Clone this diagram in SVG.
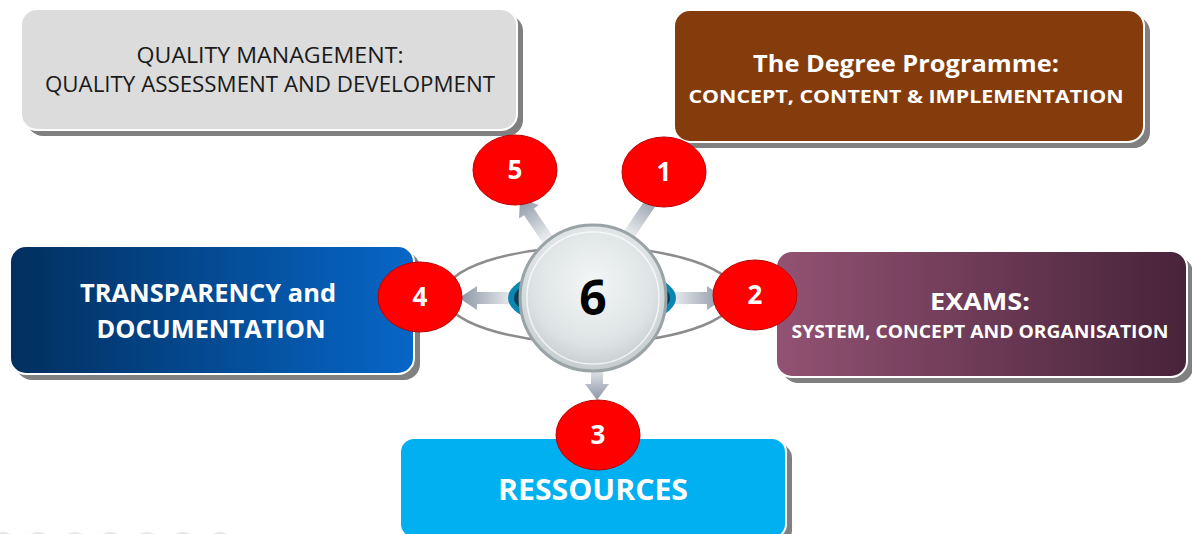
<svg xmlns="http://www.w3.org/2000/svg" width="1192" height="534" viewBox="0 0 1192 534">
<defs>
<linearGradient id="gBlue" x1="0" y1="0" x2="1" y2="0"><stop offset="0" stop-color="#022f5e"/><stop offset="1" stop-color="#0766c8"/></linearGradient>
<linearGradient id="gPurple" x1="0" y1="0" x2="1" y2="0"><stop offset="0" stop-color="#935273"/><stop offset="1" stop-color="#47233a"/></linearGradient>
<radialGradient id="gCenter" cx="0.5" cy="0.4" r="0.6"><stop offset="0" stop-color="#f4f6f6"/><stop offset="0.7" stop-color="#dde3e4"/><stop offset="1" stop-color="#c3cbcd"/></radialGradient>
<linearGradient id="gArrow" x1="0" y1="0" x2="1" y2="0"><stop offset="0" stop-color="#eef0f3"/><stop offset="1" stop-color="#8a94a3"/></linearGradient>
</defs>
<style>
.shadow{fill:#808080}
.box{stroke:#ffffff;stroke-width:2}
.badge{fill:#ff0000;stroke:#c00000;stroke-width:1}
.num{font-family:"Open Sans","Liberation Sans",sans-serif;font-weight:bold;font-size:26px;fill:#ffffff;text-anchor:middle}
.wt{font-family:"Open Sans","Liberation Sans",sans-serif;font-weight:bold;fill:#ffffff;text-anchor:middle}
.dk{font-family:"Open Sans","Liberation Sans",sans-serif;fill:#1a1a1a;text-anchor:middle}
.arrow{fill:url(#gArrow)}
</style>
<rect width="1192" height="534" fill="#ffffff"/>

<g id="pager" fill="none" stroke="#e6e6e6" stroke-width="2">
<circle cx="3" cy="547" r="14"/><circle cx="38" cy="547" r="14"/><circle cx="75" cy="547" r="14"/><circle cx="110" cy="547" r="14"/><circle cx="147" cy="547" r="14"/><circle cx="183" cy="547" r="14"/><circle cx="220" cy="547" r="14"/>
</g>

<g id="node-quality">
<rect class="shadow" x="27" y="15" width="496" height="121" rx="16"/>
<rect class="box" x="21" y="9" width="496" height="121" rx="16" fill="#dcdcdc"/>
<text class="dk" x="270" y="63" font-size="21" textLength="267" lengthAdjust="spacingAndGlyphs">QUALITY MANAGEMENT:</text>
<text class="dk" x="270" y="92" font-size="21" textLength="450" lengthAdjust="spacingAndGlyphs">QUALITY ASSESSMENT AND DEVELOPMENT</text>
</g>

<g id="node-degree">
<rect class="shadow" x="680" y="16" width="470" height="132" rx="16"/>
<rect class="box" x="674" y="10" width="470" height="132" rx="16" fill="#843c0c"/>
<text class="wt" x="906" y="72" font-size="24" textLength="306" lengthAdjust="spacingAndGlyphs">The Degree Programme:</text>
<text class="wt" x="906" y="103" font-size="18" textLength="435" lengthAdjust="spacingAndGlyphs">CONCEPT, CONTENT &amp; IMPLEMENTATION</text>
</g>

<g id="node-transparency">
<rect class="shadow" x="16" y="252" width="404" height="128" rx="16"/>
<rect class="box" x="10" y="246" width="404" height="128" rx="16" fill="url(#gBlue)"/>
<text class="wt" x="208" y="302" font-size="25" textLength="256" lengthAdjust="spacingAndGlyphs">TRANSPARENCY and</text>
<text class="wt" x="211" y="338" font-size="25" textLength="229" lengthAdjust="spacingAndGlyphs">DOCUMENTATION</text>
</g>

<g id="node-exams">
<rect class="shadow" x="782" y="257" width="411" height="126" rx="16"/>
<rect class="box" x="776" y="251" width="411" height="126" rx="16" fill="url(#gPurple)"/>
<text class="wt" x="980" y="310" font-size="23" textLength="100" lengthAdjust="spacingAndGlyphs">EXAMS:</text>
<text class="wt" x="980" y="338" font-size="17" textLength="377" lengthAdjust="spacingAndGlyphs">SYSTEM, CONCEPT AND ORGANISATION</text>
</g>

<g id="node-ressources">
<rect class="shadow" x="406" y="444" width="386" height="100" rx="14"/>
<rect class="box" x="400" y="438" width="386" height="100" rx="14" fill="#00b0f0"/>
<text class="wt" x="593" y="500" font-size="29" textLength="190" lengthAdjust="spacingAndGlyphs">RESSOURCES</text>
</g>

<g id="connectors">
<ellipse cx="590" cy="295" rx="146" ry="48" fill="none" stroke="#8c8c8c" stroke-width="2.5"/>
<path class="arrow" transform="translate(548,240) rotate(-124)" d="M0,-6 H34 V-12 L50,0 L34,12 V6 H0 Z"/>
<path class="arrow" transform="translate(628,236) rotate(-56)" d="M0,-6 H50 V6 H0 Z"/>
<path class="arrow" transform="translate(515,298) rotate(180)" d="M0,-6 H38 V-12 L56,0 L38,12 V6 H0 Z"/>
<path class="arrow" transform="translate(670,298)" d="M0,-6 H37 V-12 L55,0 L37,12 V6 H0 Z"/>
<path class="arrow" transform="translate(597,366) rotate(90)" d="M0,-6 H18 V-12 L34,0 L18,12 V6 H0 Z"/>
</g>

<g id="node-center">
<ellipse cx="592" cy="298" rx="84" ry="32" fill="#0a86b3"/>
<ellipse cx="592" cy="298" rx="78" ry="26" fill="#063b52"/>
<circle cx="593" cy="298" r="73" fill="url(#gCenter)" stroke="#9aa3a6" stroke-width="3"/>
<circle cx="593" cy="298" r="66" fill="none" stroke="#ffffff" stroke-width="1.5" opacity="0.7"/>
<text x="593" y="315" font-family="'Open Sans','Liberation Sans',sans-serif" font-weight="bold" font-size="48" fill="#000000" text-anchor="middle">6</text>
</g>

<g id="badge-5"><ellipse class="badge" cx="515" cy="170" rx="42" ry="35"/><text class="num" x="515" y="179">5</text></g>
<g id="badge-1"><ellipse class="badge" cx="664" cy="172" rx="42" ry="35"/><text class="num" x="664" y="181">1</text></g>
<g id="badge-4"><ellipse class="badge" cx="420" cy="297" rx="42" ry="35"/><text class="num" x="420" y="306">4</text></g>
<g id="badge-2"><ellipse class="badge" cx="755" cy="295" rx="42" ry="35"/><text class="num" x="755" y="304">2</text></g>
<g id="badge-3"><ellipse class="badge" cx="598" cy="435" rx="42" ry="35"/><text class="num" x="598" y="444">3</text></g>
</svg>
